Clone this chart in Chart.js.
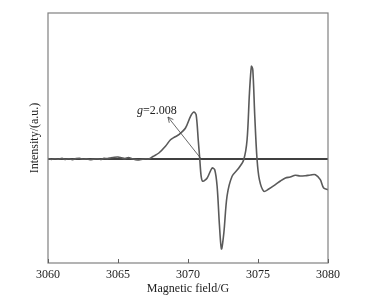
<!DOCTYPE html>
<html><head><meta charset="utf-8">
<script src="https://cdn.jsdelivr.net/npm/chart.js@4/dist/chart.umd.min.js"></script>
<style>html,body{margin:0;padding:0;background:#fff}#w{width:369px;height:303px}</style>
</head><body><div id="w"><canvas id="c"></canvas></div>
<script>
const field = [3060,3060.25,3060.5,3060.75,3061,3061.25,3061.5,3061.75,3062,3062.25,3062.5,3062.75,3063,3063.25,3063.5,3063.75,3064,3064.25,3064.5,3064.75,3065,3065.25,3065.5,3065.75,3066,3066.25,3066.5,3066.75,3067,3067.2,
3067.5,3067.92,3068.39,3068.75,3069.05,3069.35,3069.82,3070.18,3070.42,3070.58,3070.73,3070.84,3070.94,3071.06,3071.37,3071.72,3071.91,3072.08,3072.25,3072.39,3072.56,3072.79,3073.15,3073.63,3073.98,3074.22,3074.39,3074.53,3074.63,3074.77,3074.93,3075.1,3075.41,3075.77,3076.24,3076.6,3076.96,3077.3,3077.67,3078.0,3078.38,3078.75,3079.1,3079.45,3079.69,3080];
const intensity = [0.5,-0.5,0.3,-0.3,0.6,-0.4,0.2,-0.6,0.4,0.8,-0.3,0.1,-0.7,-0.2,0.3,-0.5,0.6,0.4,1.2,1.8,2.0,1.2,0.4,1.5,0.3,-0.6,-1.0,-0.3,0.2,0,
2.5,6,12.7,19.3,22,24.3,31,42.7,47,44.3,19.3,0,-17.3,-22.3,-19,-9,-10.7,-27.3,-67,-90,-74,-37,-17.3,-9,-0.7,19.3,66,92.7,89,42.7,0,-20.7,-32.3,-30,-25.7,-22,-19,-18,-16.3,-17,-16.7,-16,-15.7,-20.7,-29,-30.7];
const baseline = [[3060,0],[3080,0]];
const xTicks = [3060,3065,3070,3075,3080];
const annText = "2.008";
const arrowFrom = [3071.0, -1];
const arrowTo = [3068.57, 42];
const textAt = [3066.35, 48];

const serif = "'Liberation Serif','DejaVu Serif',serif";

const deco = {
  id:'deco',
  afterDatasetsDraw(chart){
    const {ctx, chartArea:a, scales:{x,y}} = chart;
    ctx.save();
    ctx.strokeStyle = '#808080'; ctx.lineWidth = 1.2;
    ctx.strokeRect(a.left, a.top, a.right-a.left, a.bottom-a.top);
    ctx.strokeStyle = '#606060'; ctx.lineWidth = 1;
    xTicks.forEach(v=>{const px=Math.round(x.getPixelForValue(v))+0.5;ctx.beginPath();ctx.moveTo(px,a.bottom);ctx.lineTo(px,a.bottom-4);ctx.stroke();});
    const x1=x.getPixelForValue(arrowFrom[0]), y1=y.getPixelForValue(arrowFrom[1]);
    const x2=x.getPixelForValue(arrowTo[0]), y2=y.getPixelForValue(arrowTo[1]);
    ctx.strokeStyle='#444'; ctx.lineWidth=0.8;
    ctx.beginPath();ctx.moveTo(x1,y1);ctx.lineTo(x2,y2);ctx.stroke();
    const ang=Math.atan2(y2-y1,x2-x1), L=6;
    ctx.beginPath();
    ctx.moveTo(x2-L*Math.cos(ang-0.45), y2-L*Math.sin(ang-0.45));
    ctx.lineTo(x2,y2);
    ctx.lineTo(x2-L*Math.cos(ang+0.45), y2-L*Math.sin(ang+0.45));
    ctx.stroke();
    const tx=x.getPixelForValue(textAt[0]), ty=y.getPixelForValue(textAt[1]);
    ctx.fillStyle='#222'; ctx.textBaseline='middle'; ctx.textAlign='left';
    ctx.font="italic 12px "+serif; ctx.fillText('g',tx,ty);
    const w=ctx.measureText('g').width;
    ctx.font="12px "+serif; ctx.fillText('='+annText,tx+w,ty);
    ctx.restore();
  }
};

new Chart(document.getElementById('c'),{
  type:'line',
  data:{datasets:[
    {data:field.map((f,i)=>({x:f,y:intensity[i]})),borderColor:'#5a5a5a',borderWidth:1.6,pointRadius:0,tension:0.3,order:1},
    {data:baseline.map(p=>({x:p[0],y:p[1]})),borderColor:'#000',borderWidth:1.6,pointRadius:0,order:2}
  ]},
  options:{
    responsive:true,maintainAspectRatio:false,animation:false,
    plugins:{legend:{display:false},tooltip:{enabled:false}},
    layout:{padding:{left:0,right:41,top:13,bottom:7}},
    scales:{
      x:{type:'linear',min:3060,max:3080,
        afterBuildTicks(s){s.ticks=xTicks.map(v=>({value:v}));},
        afterFit(s){s.height=33;},
        grid:{display:false,drawTicks:false,tickLength:0},border:{display:false},
        ticks:{color:'#222',font:{family:serif,size:12},padding:5,maxRotation:0,callback:v=>String(v)},
        title:{display:true,text:'Magnetic field/G',color:'#222',font:{family:serif,size:12},padding:{top:0,bottom:0}}
      },
      y:{type:'linear',min:-104,max:146,
        afterFit(s){s.width=48;},
        grid:{display:false,drawTicks:false,tickLength:0},border:{display:false},
        ticks:{display:false},
        title:{display:true,text:'Intensity/(a.u.)',color:'#222',font:{family:serif,size:12},padding:{top:28,bottom:0}}
      }
    }
  },
  plugins:[deco]
});
</script></body></html>
